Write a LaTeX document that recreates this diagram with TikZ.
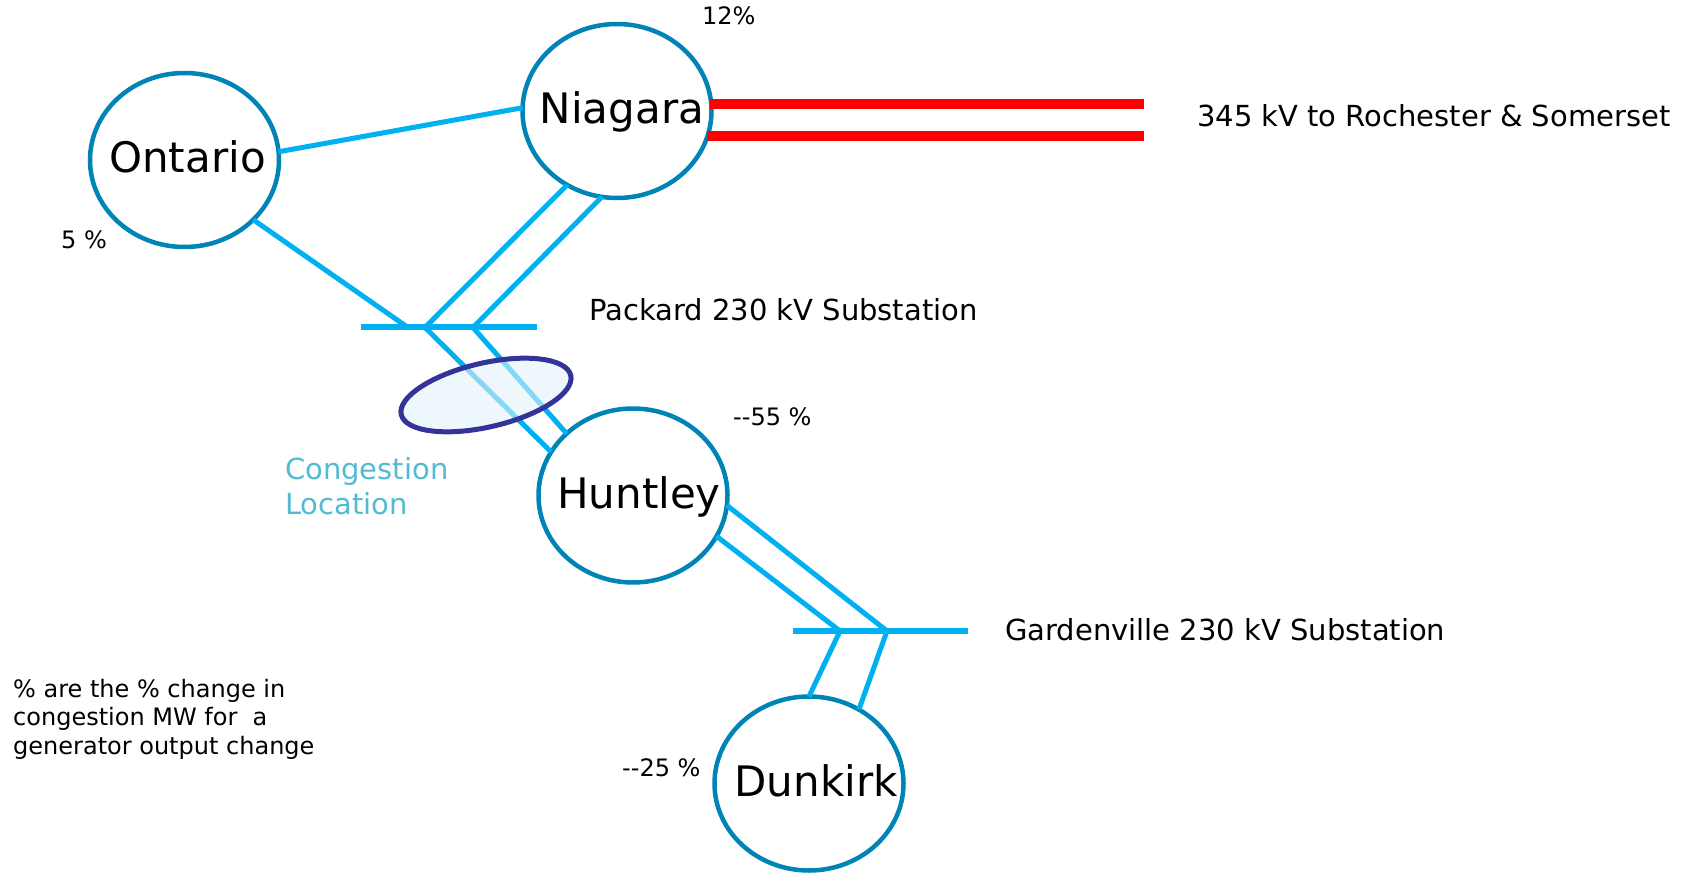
\documentclass[tikz,border=0pt]{standalone}
\usepackage{fontspec}
\setmainfont{DejaVu Sans}
\usetikzlibrary{shapes.geometric}
\definecolor{nodeblue}{RGB}{0,132,181}
\definecolor{lineblue}{RGB}{0,176,240}
\definecolor{congpurple}{RGB}{51,51,153}
\definecolor{congfill}{RGB}{226,242,250}
\definecolor{congtext}{RGB}{84,186,210}
\begin{document}
\begin{tikzpicture}[x=1pt,y=-1pt,
  station/.style={ellipse, draw=nodeblue, line width=4.5pt, minimum width=189pt,
    minimum height=174pt, inner sep=0pt, outer sep=0pt, text height=30pt,
    text depth=5pt, font=\fontsize{42}{50}\selectfont},
  link/.style={draw=lineblue, line width=5pt},
  busbar/.style={draw=lineblue, line width=6pt},
  hvline/.style={draw=red, line width=10pt},
  lbl/.style={anchor=base west, inner sep=0pt, font=\fontsize{29}{35}\selectfont},
  pct/.style={anchor=base west, inner sep=0pt, font=\fontsize{24}{29}\selectfont},
]
\useasboundingbox (0,0) rectangle (1691,882);

% stations
\node[station] (ont) at (184.5,160) {\makebox[0pt]{\hspace*{6pt}Ontario}};
\node[station] (nia) at (617,111) {\makebox[0pt]{\hspace*{10pt}Niagara}};
\node[station] (hun) at (633,495.5) {\makebox[0pt]{\hspace*{12pt}Huntley}};
\node[station] (dun) at (809,783.5) {\makebox[0pt]{\hspace*{14pt}Dunkirk}};

% bus coordinates
\coordinate (pkL) at (361,327.5);
\coordinate (pkR) at (536.5,327.5);
\coordinate (pk1) at (408,327.5);
\coordinate (pk2) at (425,327.5);
\coordinate (pk3) at (473,327.5);
\coordinate (gvL) at (793,631);
\coordinate (gvR) at (968,631);
\coordinate (gv1) at (840,631);
\coordinate (gv2) at (887,631);
\coordinate (rA) at (1144,104.5);
\coordinate (rB) at (1144,136);

% 345 kV lines
\draw[hvline] ([xshift=-2pt]nia.east |- rA) -- (rA);
\draw[hvline] ([xshift=-5pt]nia.east |- rB) -- (rB);

% bus bars
\draw[busbar] (pkL) -- (pkR);
\draw[busbar] (gvL) -- (gvR);

% links
\draw[link] (ont.5) -- (nia.178);
\draw[link] (ont.-41) -- (pk1);
\draw[link] (nia.-124) -- (pk2);
\draw[link] (nia.-100) -- (pk3);
\draw[link] (pk2) -- (hun.152.6);
\draw[link] (pk3) -- (hun.137.4);
\draw[link] (hun.-6.2) -- (gv2);
\draw[link] (hun.-26.9) -- (gv1);
\draw[link] (gv1) -- (dun.90);
\draw[link] (gv2) -- (dun.56);

% congestion ellipse
\node[ellipse, draw=congpurple, line width=5pt, fill=congfill, fill opacity=0.6,
  draw opacity=1, minimum width=174pt, minimum height=64pt, inner sep=0pt,
  rotate=13] (cong) at (486,395) {};

% labels
\node[lbl] (t345) at (1197,127) {345 kV to Rochester \& Somerset};
\node[lbl] (tpk) at (589,321) {Packard 230 kV Substation};
\node[lbl] (tgv) at (1005,640.5) {Gardenville 230 kV Substation};
\node[lbl, text=congtext, align=left, font=\fontsize{29}{34.7}\selectfont] (tcong) at (285,514) {Congestion\\Location};
\node[pct] (p12) at (702,25) {12\%};
\node[pct] (p5) at (61,248.3) {5 \%};
\node[pct] (p55) at (733,425) {-{}-55 \%};
\node[pct] (p25) at (622,776.7) {-{}-25 \%};
\node[pct, align=left, font=\fontsize{24}{28.5}\selectfont] (note) at (13,754.3)
  {\% are the \% change in\\congestion MW for\ \ a\\generator output change};
\end{tikzpicture}
\end{document}
